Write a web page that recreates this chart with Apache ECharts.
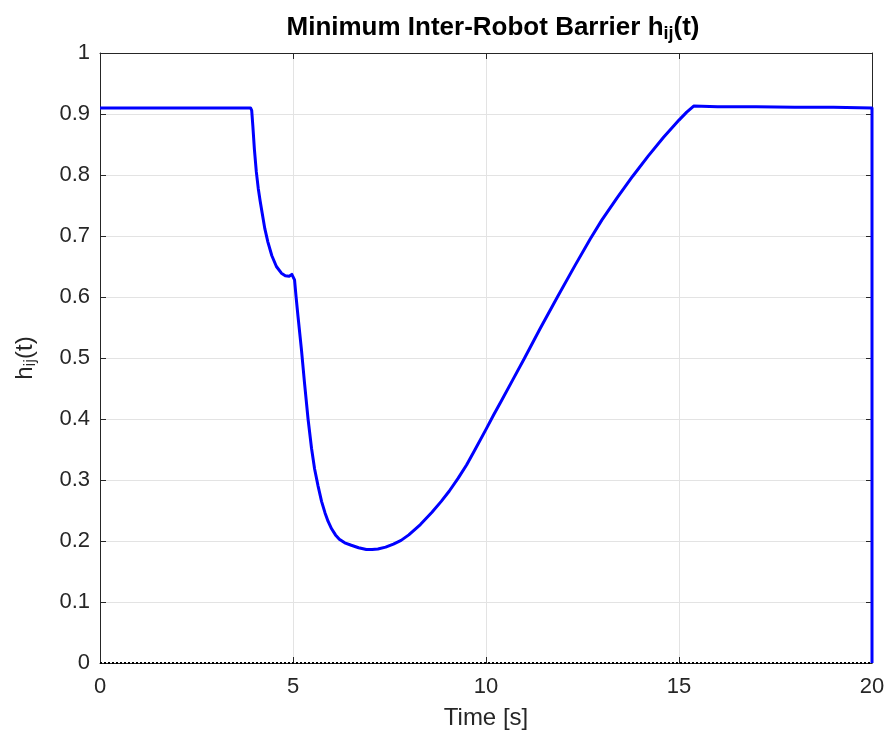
<!DOCTYPE html>
<html>
<head>
<meta charset="utf-8">
<script src="https://cdn.jsdelivr.net/npm/echarts@6/dist/echarts.min.js"></script>
<style>
html,body{margin:0;padding:0;background:#fff;}
#c{width:889px;height:736px;}
</style>
</head>
<body>
<div id="c"></div>
<script>
// Time samples [s]
var timeS = [0, 3.9, 3.93, 3.96, 4.0, 4.05, 4.1, 4.15, 4.2, 4.27, 4.35, 4.45, 4.57, 4.7, 4.8, 4.9, 4.97, 5.01, 5.04, 5.08, 5.13, 5.22, 5.3, 5.39, 5.48, 5.56, 5.65, 5.74, 5.83, 5.91, 6.0, 6.1, 6.2, 6.34, 6.51, 6.7, 6.9, 7.05, 7.2, 7.4, 7.6, 7.8, 8.0, 8.3, 8.6, 8.84, 9.05, 9.28, 9.5, 9.7, 10.0, 10.2, 10.4, 10.7, 11.0, 11.4, 11.85, 12.3, 12.7, 13.0, 13.4, 13.8, 14.2, 14.6, 15.0, 15.2, 15.38, 16, 17, 18, 19, 20, 20];
// Minimum barrier value h_ij(t)
var hVals = [0.91, 0.91, 0.906, 0.88, 0.842, 0.805, 0.778, 0.757, 0.738, 0.712, 0.69, 0.668, 0.65, 0.639, 0.635, 0.634, 0.637, 0.639, 0.628, 0.6, 0.568, 0.513, 0.458, 0.4, 0.352, 0.318, 0.29, 0.265, 0.246, 0.232, 0.22, 0.21, 0.203, 0.197, 0.193, 0.189, 0.186, 0.186, 0.187, 0.19, 0.195, 0.201, 0.21, 0.227, 0.247, 0.265, 0.282, 0.303, 0.325, 0.348, 0.383, 0.407, 0.43, 0.465, 0.5, 0.548, 0.6, 0.651, 0.695, 0.726, 0.763, 0.798, 0.831, 0.862, 0.89, 0.903, 0.913, 0.912, 0.912, 0.911, 0.911, 0.91, 0];
// Zero threshold line
var zeroLineT = [0, 20];
var zeroLineH = [0, 0];
// Tick labels
var xTickLabels = ['0', '5', '10', '15', '20'];
var yTickLabels = ['0', '0.1', '0.2', '0.3', '0.4', '0.5', '0.6', '0.7', '0.8', '0.9', '1'];

var FONT = '"Liberation Sans", Arial, Helvetica, sans-serif';
var TXT = '#262626';

function pairs(a, b) { return a.map(function (v, i) { return [v, b[i]]; }); }

var chart = echarts.init(document.getElementById('c'), null, {renderer: 'canvas'});
var tickStyle = {show: true, inside: true, length: 6, lineStyle: {color: TXT, width: 1}};
var option = {
  animation: false,
  backgroundColor: '#ffffff',
  title: {
    text: '{t|Minimum Inter-Robot Barrier h}{s|ij}{t|(t)}',
    left: 488, top: 7, textAlign: 'center',
    textStyle: {
      rich: {
        t: {fontFamily: FONT, fontSize: 26, fontWeight: 'bold', color: '#000', lineHeight: 31, verticalAlign: 'middle'},
        s: {fontFamily: FONT, fontSize: 18, fontWeight: 'bold', color: '#000', lineHeight: 18, verticalAlign: 'bottom', padding: [15, 0, 0, 0]}
      }
    }
  },
  grid: {left: 98, right: 17, top: 53, bottom: 73, containLabel: false},
  xAxis: [{
    type: 'value', min: 0, max: 20, interval: 5,
    name: 'Time [s]', nameLocation: 'middle', nameGap: 43,
    nameTextStyle: {fontFamily: FONT, fontSize: 24, color: TXT},
    axisLine: {show: true, onZero: false, lineStyle: {color: TXT, width: 1}},
    axisTick: tickStyle,
    axisLabel: {fontFamily: FONT, fontSize: 22, color: TXT, margin: 13,
      formatter: function (v) { return xTickLabels[Math.round(v / 5)]; }},
    splitLine: {show: true, lineStyle: {color: '#e3e3e3', width: 1}}
  }, {
    type: 'value', min: 0, max: 20, interval: 5, position: 'top',
    axisLine: {show: true, onZero: false, lineStyle: {color: TXT, width: 1}},
    axisTick: tickStyle, axisLabel: {show: false}, splitLine: {show: false}
  }],
  yAxis: [{
    type: 'value', min: 0, max: 1, interval: 0.1,
    name: '{a|h}{b|ij}{a|(t)}', nameLocation: 'middle', nameGap: 61, nameRotate: 90,
    nameTextStyle: {
      rich: {
        a: {fontFamily: FONT, fontSize: 24, color: TXT, lineHeight: 28, verticalAlign: 'middle'},
        b: {fontFamily: FONT, fontSize: 17, color: TXT, lineHeight: 17, verticalAlign: 'bottom', padding: [14, 0, 0, 0]}
      }
    },
    axisLine: {show: true, onZero: false, lineStyle: {color: TXT, width: 1}},
    axisTick: tickStyle,
    axisLabel: {fontFamily: FONT, fontSize: 22, color: TXT, margin: 10,
      formatter: function (v) { return yTickLabels[Math.round(v * 10)]; }},
    splitLine: {show: true, lineStyle: {color: '#e3e3e3', width: 1}}
  }, {
    type: 'value', min: 0, max: 1, interval: 0.1, position: 'right',
    axisLine: {show: true, onZero: false, lineStyle: {color: TXT, width: 1}},
    axisTick: tickStyle, axisLabel: {show: false}, splitLine: {show: false}
  }],
  series: [{
    type: 'line', name: 'zero', data: pairs(zeroLineT, zeroLineH),
    symbol: 'none', silent: true, z: 3,
    lineStyle: {color: '#000', width: 2, type: [2, 2]}
  }, {
    type: 'line', name: 'h', data: pairs(timeS, hVals),
    symbol: 'none', smooth: false, z: 4, clip: false,
    lineStyle: {color: '#0000ff', width: 3, join: 'round'}
  }]
};
chart.setOption(option);
</script>
</body>
</html>
